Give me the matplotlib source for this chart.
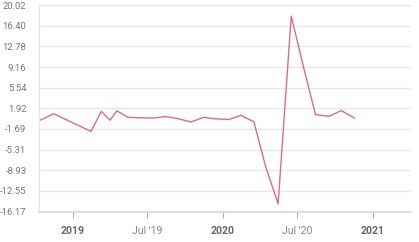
import matplotlib
matplotlib.use("Agg")
import matplotlib.pyplot as plt
import matplotlib.dates as mdates
import numpy as np
import pandas as pd

plt.rcParams['font.family'] = ['Roboto', 'DejaVu Sans']

# release dates and monthly % change
dates = [
    '2018-10-12', '2018-11-15', '2019-02-14', '2019-03-11', '2019-04-01',
    '2019-04-18', '2019-05-15', '2019-06-14', '2019-07-16', '2019-08-15',
    '2019-09-13', '2019-10-16', '2019-11-15', '2019-12-13', '2020-01-16',
    '2020-02-14', '2020-03-17', '2020-04-15', '2020-05-15', '2020-06-16',
    '2020-07-16', '2020-08-14', '2020-09-16', '2020-10-16', '2020-11-17',
]
values = [
    -0.18, 0.96, -2.12, 1.40, -0.18,
    1.49, 0.34, 0.26, 0.22, 0.47,
    0.12, -0.48, 0.34, 0.08, -0.04,
    0.69, -0.45, -8.39, -14.82, 18.09,
    9.13, 0.82, 0.52, 1.52, 0.22,
]
ytick_labels = ['-16.17', '-12.55', '-8.93', '-5.31', '-1.69', '1.92',
                '5.54', '9.16', '12.78', '16.40', '20.02']
xtick_dates = ['2019-01-01', '2019-07-01', '2020-01-01', '2020-07-01', '2021-01-01']
xtick_labels = ['2019', "Jul '19", '2020', "Jul '20", '2021']
year_ticks = [True, False, True, False, True]

x = pd.to_datetime(dates)
y_min, y_max = -16.17, 20.02

fig = plt.figure(figsize=(4.19, 2.42), dpi=100)
ax = fig.add_axes([0.093, 0.126, 0.887, 0.853])

ax.plot(x, values, color='#e06c7c', lw=1.0)

ax.set_ylim(y_min, y_max)
ax.set_yticks(np.linspace(y_min, y_max, len(ytick_labels)))
ax.set_yticklabels(ytick_labels)
ax.set_xlim(pd.Timestamp('2018-10-10'), pd.Timestamp('2021-04-03'))
ax.set_xticks(pd.to_datetime(xtick_dates))
ax.set_xticklabels(xtick_labels)

ax.grid(axis='y', color='#e8e8e8', lw=1.0)
ax.set_axisbelow(True)
for side in ['top', 'right']:
    ax.spines[side].set_visible(False)
ax.spines['left'].set_color('#e6e6e6')
ax.spines['bottom'].set_color('#d9d9d9')
ax.spines['bottom'].set_linewidth(1.2)

ax.tick_params(axis='y', length=0, pad=9, labelsize=6.8, labelcolor='#777777')
ax.tick_params(axis='x', length=4.5, width=0.8, color='#b0b0b0', pad=6,
               labelsize=7.6)
for lbl, is_year in zip(ax.get_xticklabels(), year_ticks):
    if is_year:
        lbl.set_fontweight('bold')
        lbl.set_color('#666666')
    else:
        lbl.set_color('#888888')

fig.savefig('out.png', dpi=100)
